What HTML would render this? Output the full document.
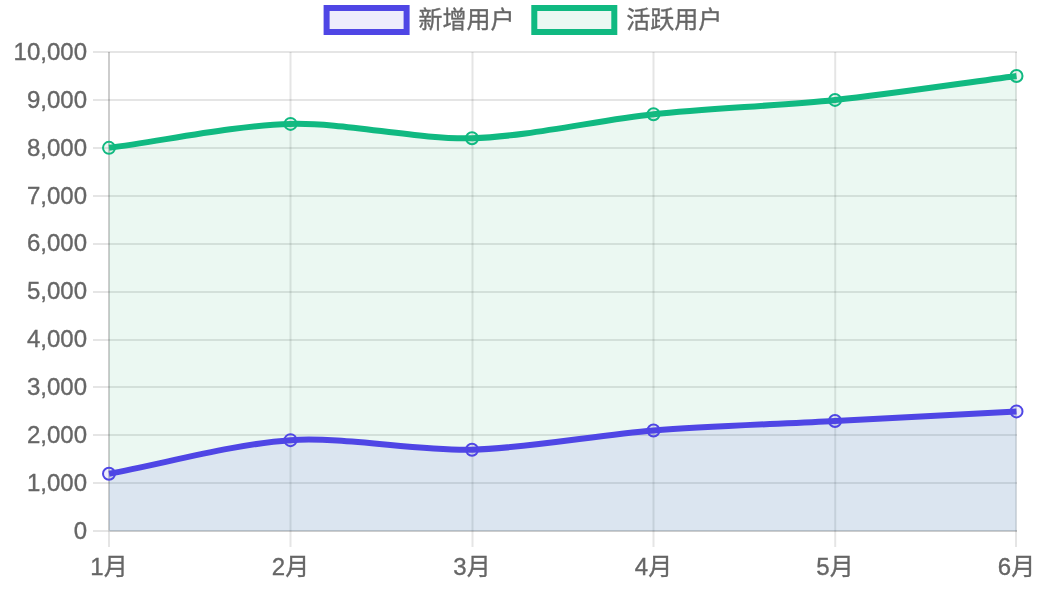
<!DOCTYPE html>
<html lang="zh-CN"><head><meta charset="utf-8"><title>用户统计</title>
<style>
html,body{margin:0;padding:0;background:#fff;}
body{width:1050px;height:602px;overflow:hidden;}
svg{display:block;}
.t text{font-family:"Liberation Sans","Noto Sans CJK SC",sans-serif;font-size:24px;fill:#666;stroke:#666;stroke-width:0.35px;}
</style></head><body>
<svg width="1050" height="602" viewBox="0 0 1050 602">
<rect width="1050" height="602" fill="#fff"/>
<g stroke="rgba(0,0,0,0.1)" stroke-width="2" fill="none">
<path d="M109 52V547"/>
<path d="M290.5 52V547"/>
<path d="M472.5 52V547"/>
<path d="M653.5 52V547"/>
<path d="M835.2 52V547"/>
<path d="M1016 52V547"/>
<path d="M93 531H108M110 531H1017"/>
<path d="M93 483H1017"/>
<path d="M93 435H1017"/>
<path d="M93 387H1017"/>
<path d="M93 340H1017"/>
<path d="M93 292H1017"/>
<path d="M93 244H1017"/>
<path d="M93 196H1017"/>
<path d="M93 148H1017"/>
<path d="M93 100H1017"/>
<path d="M93 52H1017"/>
<path d="M109 52V532"/>
<path d="M110 531H1017"/>
</g>
<path d="M109.00 147.84 C163.45 140.65 235.90 125.32 290.50 123.88 C344.80 122.45 417.70 139.69 472.00 138.26 C526.60 136.81 598.90 120.06 653.50 114.30 C707.80 108.56 780.70 105.65 835.00 99.92 C889.60 94.15 962.05 83.15 1016.50 75.96 L1016.5 531 L109 531 Z" fill="rgba(56,185,129,0.1)"/>
<path d="M109.00 147.84 C163.45 140.65 235.90 125.32 290.50 123.88 C344.80 122.45 417.70 139.69 472.00 138.26 C526.60 136.81 598.90 120.06 653.50 114.30 C707.80 108.56 780.70 105.65 835.00 99.92 C889.60 94.15 962.05 83.15 1016.50 75.96" fill="none" stroke="rgb(16,185,129)" stroke-width="6"/>
<circle cx="109" cy="147.84" r="6" fill="rgba(56,185,129,0.1)" stroke="rgb(16,185,129)" stroke-width="2"/>
<circle cx="290.5" cy="123.88" r="6" fill="rgba(56,185,129,0.1)" stroke="rgb(16,185,129)" stroke-width="2"/>
<circle cx="472" cy="138.26" r="6" fill="rgba(56,185,129,0.1)" stroke="rgb(16,185,129)" stroke-width="2"/>
<circle cx="653.5" cy="114.3" r="6" fill="rgba(56,185,129,0.1)" stroke="rgb(16,185,129)" stroke-width="2"/>
<circle cx="835" cy="99.92" r="6" fill="rgba(56,185,129,0.1)" stroke="rgb(16,185,129)" stroke-width="2"/>
<circle cx="1016.5" cy="75.96" r="6" fill="rgba(56,185,129,0.1)" stroke="rgb(16,185,129)" stroke-width="2"/>
<path d="M109.00 473.70 C163.45 463.63 235.63 443.77 290.50 440.15 C344.53 436.59 417.66 451.17 472.00 449.74 C526.56 448.30 598.94 434.89 653.50 430.57 C707.84 426.26 780.55 423.86 835.00 420.98 C889.45 418.11 962.05 414.28 1016.50 411.40 L1016.5 531 L109 531 Z" fill="rgba(79,70,229,0.1)"/>
<path d="M109.00 473.70 C163.45 463.63 235.63 443.77 290.50 440.15 C344.53 436.59 417.66 451.17 472.00 449.74 C526.56 448.30 598.94 434.89 653.50 430.57 C707.84 426.26 780.55 423.86 835.00 420.98 C889.45 418.11 962.05 414.28 1016.50 411.40" fill="none" stroke="rgb(79,70,229)" stroke-width="6"/>
<circle cx="109" cy="473.7" r="6" fill="rgba(79,70,229,0.1)" stroke="rgb(79,70,229)" stroke-width="2"/>
<circle cx="290.5" cy="440.15" r="6" fill="rgba(79,70,229,0.1)" stroke="rgb(79,70,229)" stroke-width="2"/>
<circle cx="472" cy="449.74" r="6" fill="rgba(79,70,229,0.1)" stroke="rgb(79,70,229)" stroke-width="2"/>
<circle cx="653.5" cy="430.57" r="6" fill="rgba(79,70,229,0.1)" stroke="rgb(79,70,229)" stroke-width="2"/>
<circle cx="835" cy="420.98" r="6" fill="rgba(79,70,229,0.1)" stroke="rgb(79,70,229)" stroke-width="2"/>
<circle cx="1016.5" cy="411.4" r="6" fill="rgba(79,70,229,0.1)" stroke="rgb(79,70,229)" stroke-width="2"/>
<rect x="326.6" y="8" width="80" height="24" fill="rgba(79,70,229,0.1)" stroke="rgb(79,70,229)" stroke-width="6"/>
<rect x="534.3" y="8" width="80" height="24" fill="rgba(56,185,129,0.1)" stroke="rgb(16,185,129)" stroke-width="6"/>
<g class="t">
<text x="418.6" y="27.5">新增用户</text>
<text x="626.3" y="27.5">活跃用户</text>
<text x="87" y="539" text-anchor="end">0</text>
<text x="87" y="491.08" text-anchor="end">1,000</text>
<text x="87" y="443.16" text-anchor="end">2,000</text>
<text x="87" y="395.24" text-anchor="end">3,000</text>
<text x="87" y="347.32" text-anchor="end">4,000</text>
<text x="87" y="299.4" text-anchor="end">5,000</text>
<text x="87" y="251.48" text-anchor="end">6,000</text>
<text x="87" y="203.56" text-anchor="end">7,000</text>
<text x="87" y="155.64" text-anchor="end">8,000</text>
<text x="87" y="107.72" text-anchor="end">9,000</text>
<text x="87" y="59.8" text-anchor="end">10,000</text>
<text x="109" y="575" text-anchor="middle">1月</text>
<text x="290.5" y="575" text-anchor="middle">2月</text>
<text x="472" y="575" text-anchor="middle">3月</text>
<text x="653.5" y="575" text-anchor="middle">4月</text>
<text x="835" y="575" text-anchor="middle">5月</text>
<text x="1016.5" y="575" text-anchor="middle">6月</text>
</g></svg>
</body></html>
